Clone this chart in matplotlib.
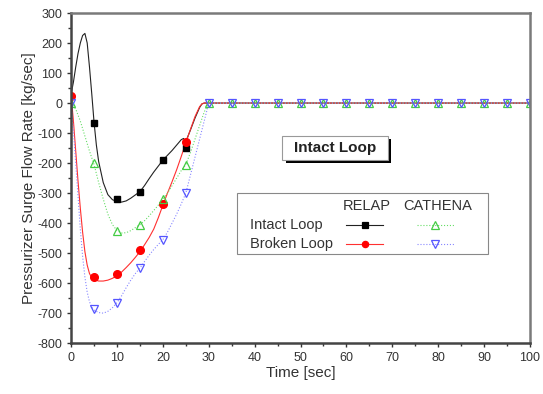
import numpy as np
import matplotlib
matplotlib.use("Agg")
import matplotlib.pyplot as plt
from matplotlib.patches import Rectangle

plt.rcParams['font.family'] = ['Liberation Sans', 'DejaVu Sans']
plt.rcParams['axes.unicode_minus'] = False

# marker values
t_relap = [0, 5, 10, 15, 20, 25]
intact_relap = [None, -65, -320, -295, -190, -150]
broken_relap = [25, -580, -570, -490, -335, -130]

t_cath = [0, 5, 10, 15, 20, 25, 30, 35, 40, 45, 50, 55, 60, 65, 70, 75, 80, 85, 90, 95, 100]
intact_cath = [0, -200, -425, -405, -320, -205, 0, 0, 0, 0, 0, 0, 0, 0, 0, 0, 0, 0, 0, 0, 0]
broken_cath = [0, -685, -665, -550, -455, -300, 0, 0, 0, 0, 0, 0, 0, 0, 0, 0, 0, 0, 0, 0, 0]

# curve traces
t_intact_line = [0, 0.5, 1, 1.5, 2, 2.5, 3, 3.5, 4, 4.5, 5, 5.5, 6, 7, 8, 9, 10, 11, 12, 13, 14,
                 15, 16, 17, 18, 20, 22, 23, 24, 24.5, 25, 26, 27, 28, 28.5, 29, 30, 100]
v_intact_line = [30, 70, 120, 165, 200, 225, 232, 200, 120, 30, -65, -140, -195, -265, -305, -322,
                 -328, -330, -326, -317, -306, -295, -275, -252, -230, -190, -158, -140, -122, -118,
                 -128, -90, -50, -15, -3, 0, 0, 0]
t_broken_line = [0, 0.5, 1, 1.5, 2, 2.5, 3, 3.5, 4, 4.5, 5, 6, 7, 8, 9, 10, 11, 12, 13, 14, 15, 16,
                 17, 18, 19, 20, 21, 22, 23, 24, 25, 26, 27, 28, 28.5, 29, 30, 100]
v_broken_line = [25, -60, -160, -260, -350, -430, -495, -540, -568, -582, -588, -593, -593, -590,
                 -584, -575, -563, -548, -532, -514, -495, -472, -448, -420, -382, -340, -300, -262,
                 -222, -178, -132, -88, -45, -12, -3, 0, 0, 0]
t_green_line = [0, 1, 2, 3, 4, 5, 6, 7, 8, 9, 10, 11, 12, 13, 14, 15, 16, 17, 18, 19, 20, 21, 22,
                23, 24, 25, 26, 27, 28, 29, 30, 100]
v_green_line = [0, -20, -60, -110, -160, -205, -265, -320, -370, -405, -425, -433, -432, -425,
                -415, -405, -392, -376, -358, -340, -320, -300, -275, -250, -225, -205, -165, -120,
                -75, -30, 0, 0]
t_blue_line = [0, 0.5, 1, 1.5, 2, 2.5, 3, 3.5, 4, 4.5, 5, 6, 7, 8, 9, 10, 11, 12, 13, 14, 15, 16,
               17, 18, 19, 20, 21, 22, 23, 24, 25, 26, 27, 28, 29, 30, 100]
v_blue_line = [0, -90, -200, -310, -420, -510, -580, -630, -662, -680, -690, -698, -700, -694,
               -682, -665, -642, -615, -590, -568, -550, -528, -507, -488, -471, -455, -430, -400,
               -370, -336, -300, -240, -180, -120, -60, 0, 0]

grey = '#7a7a7a'
txt = '#333333'

fig = plt.figure(figsize=(5.43, 3.94), dpi=100)
ax = fig.add_axes([0.131, 0.129, 0.845, 0.838])

ax.plot(t_intact_line, v_intact_line, color='#222222', lw=0.8)
ax.plot(t_broken_line, v_broken_line, color='#ff3030', lw=0.8)
ax.plot(t_green_line, v_green_line, color='#66dd66', lw=0.8, ls=':')
ax.plot(t_blue_line, v_blue_line, color='#8888ff', lw=0.8, ls=':')

ti = [t for t, v in zip(t_relap, intact_relap) if v is not None]
vi = [v for v in intact_relap if v is not None]
ax.plot(ti, vi, ls='none', marker='s', ms=5, color='black')
ax.plot(t_relap, broken_relap, ls='none', marker='o', ms=5.5, color='red')
ax.plot(t_cath, intact_cath, ls='none', marker='^', ms=6, mfc='none', mec='#44cc44', mew=0.9)
ax.plot(t_cath, broken_cath, ls='none', marker='v', ms=6, mfc='none', mec='#5555ff', mew=0.9)

ax.set_xlim(0, 100)
ax.set_ylim(-800, 300)
ax.set_xticks(np.arange(0, 101, 10))
ax.set_xticks(np.arange(0, 101, 5), minor=True)
ax.set_yticks(np.arange(-800, 301, 100))
ax.set_yticks(np.arange(-800, 301, 50), minor=True)
ax.tick_params(which='both', direction='out', color=txt, labelsize=9, labelcolor=txt)
ax.tick_params(which='major', length=3, width=1)
ax.tick_params(which='minor', length=2, width=1)
for s in ax.spines.values():
    s.set_color(grey)
    s.set_linewidth(1.8)
ax.spines['left'].set_color('#444444')
ax.spines['bottom'].set_color('#444444')

ax.set_xlabel('Time [sec]', fontsize=11, color=txt, labelpad=1)
ax.set_ylabel('Pressurizer Surge Flow Rate [kg/sec]', fontsize=11, color=txt, labelpad=1)

# title box with shadow
ax.add_patch(Rectangle((0.468, 0.545), 0.23, 0.073, transform=ax.transAxes,
                       facecolor='black', edgecolor='none', zorder=4))
ax.add_patch(Rectangle((0.46, 0.555), 0.23, 0.073, transform=ax.transAxes,
                       facecolor='white', edgecolor='#999999', lw=0.8, zorder=5))
ax.text(0.575, 0.592, 'Intact Loop', transform=ax.transAxes, ha='center', va='center',
        fontsize=11, fontweight='bold', color='#222222', zorder=6)

# legend box
ax.add_patch(Rectangle((0.362, 0.27), 0.546, 0.185, transform=ax.transAxes,
                       facecolor='white', edgecolor='#888888', lw=0.8, zorder=5))
ax.text(0.644, 0.415, 'RELAP', transform=ax.transAxes, ha='center', va='center',
        fontsize=10.5, color=txt, zorder=6)
ax.text(0.798, 0.415, 'CATHENA', transform=ax.transAxes, ha='center', va='center',
        fontsize=10.5, color=txt, zorder=6)
ax.text(0.39, 0.358, 'Intact Loop', transform=ax.transAxes, ha='left', va='center',
        fontsize=10.5, color=txt, zorder=6)
ax.text(0.39, 0.30, 'Broken Loop', transform=ax.transAxes, ha='left', va='center',
        fontsize=10.5, color=txt, zorder=6)
samples = [
    (0.64, 0.358, '#222222', '-', 's', 'black', 'black', 4),
    (0.64, 0.30, '#ff3030', '-', 'o', 'red', 'red', 4.5),
    (0.794, 0.358, '#66dd66', ':', '^', 'none', '#44cc44', 6),
    (0.794, 0.30, '#8888ff', ':', 'v', 'none', '#5555ff', 6),
]
for x, y, lc, ls, mk, mfc, mec, ms in samples:
    ax.plot([x - 0.04, x + 0.04], [y, y], transform=ax.transAxes, color=lc, ls=ls, lw=0.8, zorder=6)
    ax.plot([x], [y], transform=ax.transAxes, marker=mk, ms=ms, mfc=mfc, mec=mec, mew=0.9,
            ls='none', zorder=7)

fig.savefig('out.png', dpi=100)
